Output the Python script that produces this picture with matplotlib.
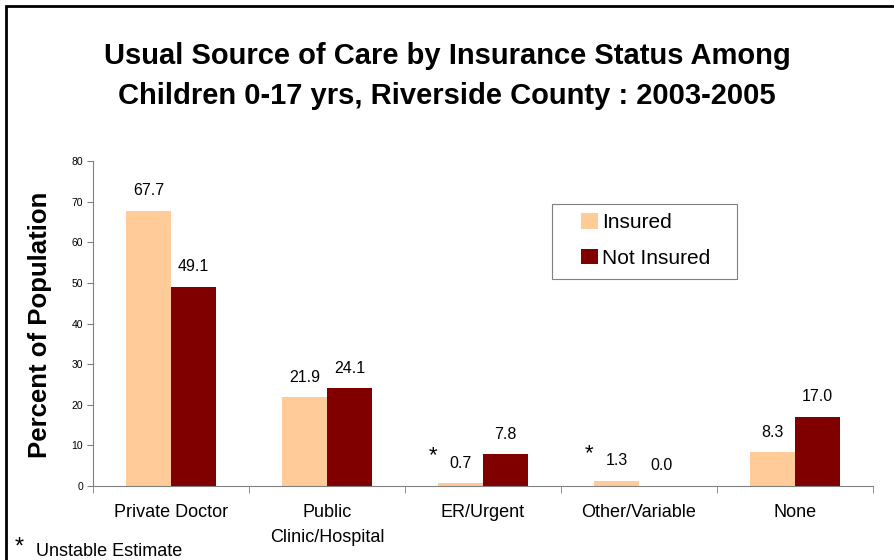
import matplotlib
matplotlib.use("Agg")
import matplotlib.pyplot as plt
from matplotlib.patches import Rectangle
import numpy as np

categories = ["Private Doctor", "Public\nClinic/Hospital", "ER/Urgent", "Other/Variable", "None"]
insured = [67.7, 21.9, 0.7, 1.3, 8.3]
not_insured = [49.1, 24.1, 7.8, 0.0, 17.0]
unstable = [False, False, True, True, False]
series_names = ["Insured", "Not Insured"]
colors = ["#FFCC99", "#800000"]

plt.rcParams['font.family'] = ['Liberation Sans', 'DejaVu Sans']

W, H = 894, 560
fig = plt.figure(figsize=(W/100, H/100), dpi=100)
ax_l, ax_r, ax_b, ax_t = 93, 873, 486, 161
ax = fig.add_axes([ax_l/W, 1 - ax_b/H, (ax_r - ax_l)/W, (ax_b - ax_t)/H])

x = np.arange(len(categories))
w = 0.29
b1 = ax.bar(x - w/2, insured, w, color=colors[0], label=series_names[0])
b2 = ax.bar(x + w/2, not_insured, w, color=colors[1], label=series_names[1])

for bars, vals in ((b1, insured), (b2, not_insured)):
    for rect, v in zip(bars, vals):
        ax.annotate(f"{v:.1f}", (rect.get_x() + rect.get_width()/2, v),
                    xytext=(0, 9), textcoords="offset points",
                    ha="center", va="bottom", fontsize=11.5)

for i, u in enumerate(unstable):
    if u:
        ax.annotate("*", (x[i] - w/2, insured[i]), xytext=(-20, 12),
                    textcoords="offset points", ha="center", va="bottom",
                    fontsize=16)

ax.set_xlim(-0.5, len(categories) - 0.5)
ax.set_ylim(0, 80)
ax.set_yticks(range(0, 81, 10))
ax.tick_params(axis='y', labelsize=7.5, length=4, color="#808080", pad=3)
ax.set_xticks(x)
ax.set_xticklabels(categories, fontsize=13, linespacing=1.6)
ax.tick_params(axis='x', length=0, pad=13)
ax.set_xticks(np.arange(-0.5, len(categories)), minor=True)
ax.tick_params(axis='x', which='minor', length=5, color="#808080")

for s in ("top", "right"):
    ax.spines[s].set_visible(False)
for s in ("left", "bottom"):
    ax.spines[s].set_color("#808080")

ax.set_ylabel("Percent of Population", fontsize=18.5, fontweight="bold")
ax.yaxis.set_label_coords((52 - ax_l)/(ax_r - ax_l), (ax_b - 325)/(ax_b - ax_t))

# legend frame (drawn separately for wider padding)
lx0, lx1, ly0, ly1 = 552, 737, 204, 279
ax.add_patch(Rectangle((lx0/W, 1 - ly1/H), (lx1 - lx0)/W, (ly1 - ly0)/H,
                       transform=fig.transFigure, facecolor="white",
                       edgecolor="#808080", linewidth=0.8, zorder=4,
                       clip_on=False))
leg = ax.legend(loc="upper left",
                bbox_to_anchor=((577 - ax_l)/(ax_r - ax_l), (ax_b - 209)/(ax_b - ax_t)),
                frameon=False, fontsize=15, handlelength=0.8,
                handleheight=0.75, handletextpad=0.2, labelspacing=0.8,
                borderpad=0.2, borderaxespad=0)
leg.set_zorder(5)

fig.text(0.5, 1 - 56/H, "Usual Source of Care by Insurance Status Among",
         ha="center", va="center", fontsize=21, fontweight="bold")
fig.text(0.5, 1 - 96/H, "Children 0-17 yrs, Riverside County : 2003-2005",
         ha="center", va="center", fontsize=21, fontweight="bold")

fig.text(15/W, 1 - 548/H, "*", fontsize=17, ha="left", va="center")
fig.text(36/W, 1 - 552/H, "Unstable Estimate", fontsize=13, ha="left", va="center")

fig.add_artist(Rectangle((6/W, -0.1), 1.2, (H - 6)/H + 0.1,
                         transform=fig.transFigure, fill=False,
                         edgecolor="black", linewidth=2))

fig.savefig("out.png", dpi=100)
